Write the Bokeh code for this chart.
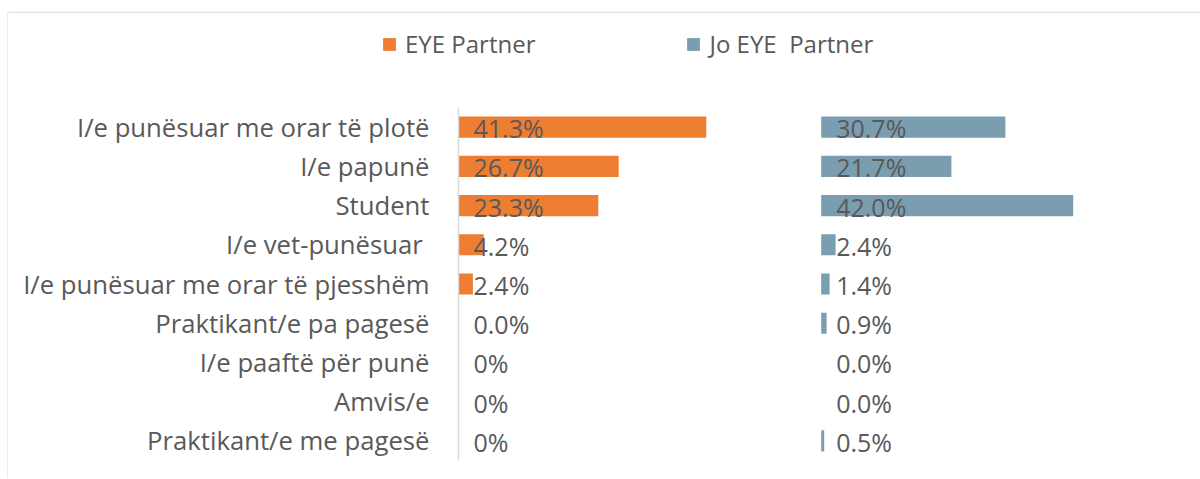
from bokeh.plotting import figure
from bokeh.layouts import column, row
from bokeh.models import ColumnDataSource, FactorRange, Legend, LegendItem, Range1d, BoxAnnotation
from bokeh.embed import file_html
from bokeh.resources import INLINE
from bokeh.core.properties import value

categories = [
    "I/e punësuar me orar të plotë",
    "I/e papunë",
    "Student",
    "I/e vet-punësuar ",
    "I/e punësuar me orar të pjesshëm",
    "Praktikant/e pa pagesë",
    "I/e paaftë për punë",
    "Amvis/e",
    "Praktikant/e me pagesë",
]
eye_values = [41.3, 26.7, 23.3, 4.2, 2.4, 0.0, 0, 0, 0]
eye_labels = ["41.3%", "26.7%", "23.3%", "4.2%", "2.4%", "0.0%", "0%", "0%", "0%"]
jo_values = [30.7, 21.7, 42.0, 2.4, 1.4, 0.9, 0.0, 0.0, 0.5]
jo_labels = ["30.7%", "21.7%", "42.0%", "2.4%", "1.4%", "0.9%", "0.0%", "0.0%", "0.5%"]
series_names = ["EYE Partner", "Jo EYE  Partner"]

ORANGE = "#ED7D31"
BLUE = "#7A9EAF"
TEXT = "#595959"
BORDER = "#d9d9d9"
FONT = "Open Sans"
JO_OFFSET = 60.45  # start of the second panel on the shared x scale


def blank(fig):
    fig.outline_line_color = None
    fig.xgrid.grid_line_color = None
    fig.ygrid.grid_line_color = None
    fig.xaxis.visible = False
    fig.yaxis.visible = False


def no_frame_align(fig):
    if "frame_align" in fig.properties():
        fig.frame_align = False


# ---- thin strip holding the chart-area's left border
T = figure(width=8, height=478, x_range=Range1d(0, 8), y_range=Range1d(478, 0),
           output_backend="svg", toolbar_location=None, min_border=0)
blank(T)
no_frame_align(T)
T.add_layout(BoxAnnotation(left=7, right=8, top=11.5, bottom=478,
                           fill_color=BORDER, fill_alpha=1, line_color=None))

# ---- legend strip
L = figure(width=1192, height=95, x_range=Range1d(8, 1200), y_range=Range1d(95, 0),
           output_backend="svg", toolbar_location=None, min_border=0)
blank(L)
no_frame_align(L)
L.add_layout(BoxAnnotation(left=8, right=1200, top=11.3, bottom=12.3,
                           fill_color=BORDER, fill_alpha=1, line_color=None))
# zero-size proxies that only supply the legend swatches
lr1 = L.hbar(y=[0], left=[0], right=[0], height=0, fill_color=ORANGE, line_color=None)
lr2 = L.hbar(y=[0], left=[0], right=[0], height=0, fill_color=BLUE, line_color=None)
legend = Legend(
    items=[LegendItem(label=series_names[0], renderers=[lr1]),
           LegendItem(label=series_names[1], renderers=[lr2])],
    orientation="horizontal", location=(373, 35), spacing=150,
    padding=0, margin=0, glyph_width=16, glyph_height=16, label_standoff=8,
    label_text_font_size="24px", label_text_color=TEXT, label_text_font=FONT,
    border_line_color=None, background_fill_alpha=0,
)
L.add_layout(legend)

# ---- main chart
M = figure(
    width=1192, height=383,
    y_range=FactorRange(factors=list(reversed(categories))),
    x_range=Range1d(0, 120),
    output_backend="svg", toolbar_location=None,
    min_border_left=450, min_border_right=22, min_border_top=12, min_border_bottom=18,
)
no_frame_align(M)
M.outline_line_color = None
M.xgrid.grid_line_color = None
M.ygrid.grid_line_color = None
M.xaxis.visible = False
M.yaxis.axis_line_color = BORDER
M.yaxis.axis_line_width = 1.5
M.yaxis.major_tick_line_color = None
M.yaxis.major_tick_out = 0
M.yaxis.major_tick_in = 0
M.yaxis.major_label_standoff = 29
M.yaxis.major_label_text_font_size = "25.7px"
M.yaxis.major_label_text_font = FONT
M.yaxis.major_label_text_color = TEXT

eye_src = ColumnDataSource(dict(
    y=categories, left=[0.0] * len(categories), right=eye_values, label=eye_labels,
))
jo_src = ColumnDataSource(dict(
    y=categories, left=[JO_OFFSET] * len(categories),
    right=[JO_OFFSET + v for v in jo_values], label=jo_labels,
))

M.hbar(y="y", left="left", right="right", height=0.54, source=eye_src,
       fill_color=ORANGE, line_color=None)
M.hbar(y="y", left="left", right="right", height=0.54, source=jo_src,
       fill_color=BLUE, line_color=None)

for src in (eye_src, jo_src):
    M.text(x="left", y="y", text="label", source=src, x_offset=15, y_offset=1,
           text_align="left", text_baseline="middle", text_font_size="25px",
           text_font=value(FONT), text_color=TEXT)

layout = row(T, column(L, M, spacing=0), spacing=0)
open("out.html", "w").write(file_html(layout, INLINE))
